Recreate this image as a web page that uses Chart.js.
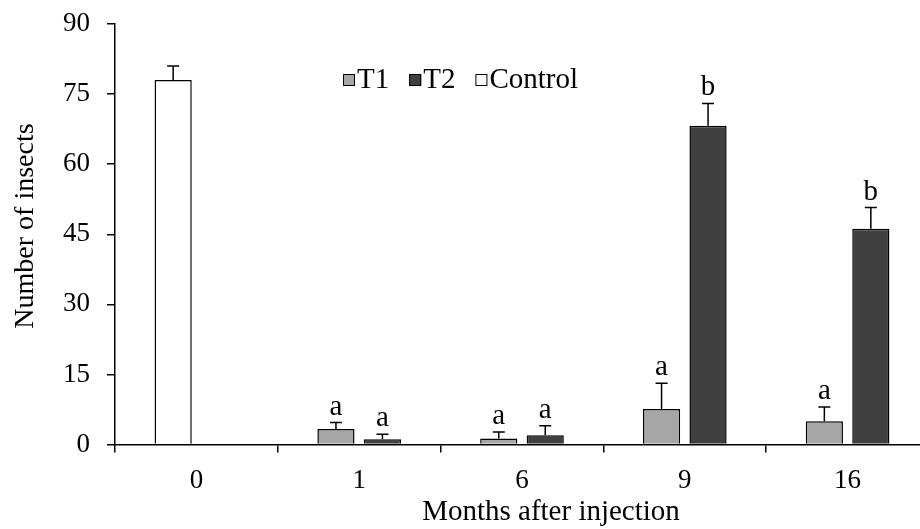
<!DOCTYPE html>
<html>
<head>
<meta charset="utf-8">
<script src="https://cdn.jsdelivr.net/npm/chart.js@4.4.1/dist/chart.umd.min.js"></script>
<style>
html, body { margin: 0; padding: 0; overflow: hidden; background: #fff; }
#wrap { width: 940px; height: 529px; }
</style>
</head>
<body>
<div id="wrap"><canvas id="c"></canvas></div>
<script>
const categories = ['0', '1', '6', '9', '16'];
const t1Values = [null, 3.3, 1.3, 7.6, 5.0];
const t1Errors = [null, 1.4, 1.4, 5.5, 3.0];
const t1Letters = [null, 'a', 'a', 'a', 'a'];
const t2Values = [null, 1.1, 2.0, 68.2, 46.2];
const t2Errors = [null, 1.1, 2.0, 4.8, 4.5];
const t2Letters = [null, 'a', 'a', 'b', 'b'];
const controlValues = [78.0, null, null, null, null];
const controlErrors = [3.0, null, null, null, null];
const controlLetters = [null, null, null, null, null];
const yTicks = [0, 15, 30, 45, 60, 75, 90];
const xTitle = 'Months after injection';
const yTitle = 'Number of insects';

const FONT = "'Liberation Serif', 'Times New Roman', serif";

const errorBarPlugin = {
  id: 'errorBars',
  afterDatasetsDraw(chart) {
    const ctx = chart.ctx;
    const y = chart.scales.y;
    chart.data.datasets.forEach((ds, di) => {
      const meta = chart.getDatasetMeta(di);
      ds.data.forEach((v, i) => {
        if (v === null || v === undefined) return;
        const el = meta.data[i];
        const err = ds.errors[i];
        const yTop = y.getPixelForValue(v + (err || 0));
        const yVal = y.getPixelForValue(v);
        ctx.save();
        ctx.strokeStyle = '#000';
        ctx.lineWidth = 1.5;
        if (err) {
          ctx.beginPath();
          ctx.moveTo(el.x, yVal);
          ctx.lineTo(el.x, yTop);
          ctx.moveTo(el.x - 6, yTop);
          ctx.lineTo(el.x + 6, yTop);
          ctx.stroke();
        }
        const letter = ds.letters[i];
        if (letter) {
          ctx.fillStyle = '#000';
          ctx.font = '29px ' + FONT;
          ctx.textAlign = 'center';
          ctx.textBaseline = 'alphabetic';
          ctx.fillText(letter, el.x, yTop - 8);
        }
        ctx.restore();
      });
    });
  }
};

const legendPlugin = {
  id: 'customLegend',
  afterDraw(chart) {
    const ctx = chart.ctx;
    ctx.save();
    ctx.font = '29px ' + FONT;
    ctx.textBaseline = 'alphabetic';
    ctx.textAlign = 'left';
    let x = 343;
    const baseY = 88;
    chart.data.datasets.forEach(ds => {
      ctx.fillStyle = ds.backgroundColor;
      ctx.fillRect(x, 74, 12, 12);
      ctx.strokeStyle = '#000';
      ctx.lineWidth = 1;
      ctx.strokeRect(x + 0.5, 74.5, 11, 11);
      ctx.fillStyle = '#000';
      ctx.fillText(ds.label, x + 14, baseY);
      x += 14 + ctx.measureText(ds.label).width + 20;
    });
    ctx.restore();
  }
};

const axisTitlePlugin = {
  id: 'axisTitles',
  afterDraw(chart) {
    const ctx = chart.ctx;
    const area = chart.chartArea;
    ctx.save();
    ctx.fillStyle = '#000';
    ctx.textBaseline = 'alphabetic';
    ctx.textAlign = 'center';
    ctx.font = '29px ' + FONT;
    ctx.fillText(xTitle, area.left + 436, 520);
    ctx.font = '28px ' + FONT;
    ctx.translate(33, area.top + 202);
    ctx.rotate(-Math.PI / 2);
    ctx.fillText(yTitle, 0, 0);
    ctx.restore();
  }
};

new Chart(document.getElementById('c'), {
  type: 'bar',
  data: {
    labels: categories,
    datasets: [
      { label: 'T1', data: t1Values, errors: t1Errors, letters: t1Letters, stack: 'a',
        backgroundColor: '#a6a6a6', borderColor: '#000', borderWidth: 1.5 },
      { label: 'T2', data: t2Values, errors: t2Errors, letters: t2Letters, stack: 'b',
        backgroundColor: '#404040', borderColor: '#000', borderWidth: 1.5 },
      { label: 'Control', data: controlValues, errors: controlErrors, letters: controlLetters, stack: 'a',
        backgroundColor: '#ffffff', borderColor: '#000', borderWidth: 1.5 }
    ]
  },
  options: {
    responsive: true,
    maintainAspectRatio: false,
    animation: false,
    devicePixelRatio: 1,
    categoryPercentage: 0.571,
    barPercentage: 0.8,
    layout: { padding: { top: 24, right: 11, bottom: 0, left: 0 } },
    plugins: { legend: { display: false }, tooltip: { enabled: false } },
    scales: {
      x: {
        grid: { display: true, drawOnChartArea: false, drawTicks: true, tickLength: 8, color: '#000', lineWidth: 1.5, offset: true },
        border: { display: true, color: '#000', width: 1.5 },
        ticks: { color: '#000', font: { family: FONT, size: 27 }, padding: 12, maxRotation: 0 },
        title: { display: false },
        afterFit(scale) { scale.height = 84.5; scale.paddingLeft = 0; scale.paddingRight = 0; }
      },
      y: {
        min: 0, max: 90,
        afterBuildTicks(scale) { scale.ticks = yTicks.map(v => ({ value: v })); },
        grid: { display: true, drawOnChartArea: false, drawTicks: true, tickLength: 8, color: '#000', lineWidth: 1.5 },
        border: { display: true, color: '#000', width: 1.5 },
        ticks: { color: '#000', font: { family: FONT, size: 27 }, padding: 17 },
        title: { display: false },
        afterFit(scale) { scale.width = 115; scale.paddingTop = 0; scale.paddingBottom = 0; }
      }
    }
  },
  plugins: [errorBarPlugin, legendPlugin, axisTitlePlugin]
});
</script>
</body>
</html>
